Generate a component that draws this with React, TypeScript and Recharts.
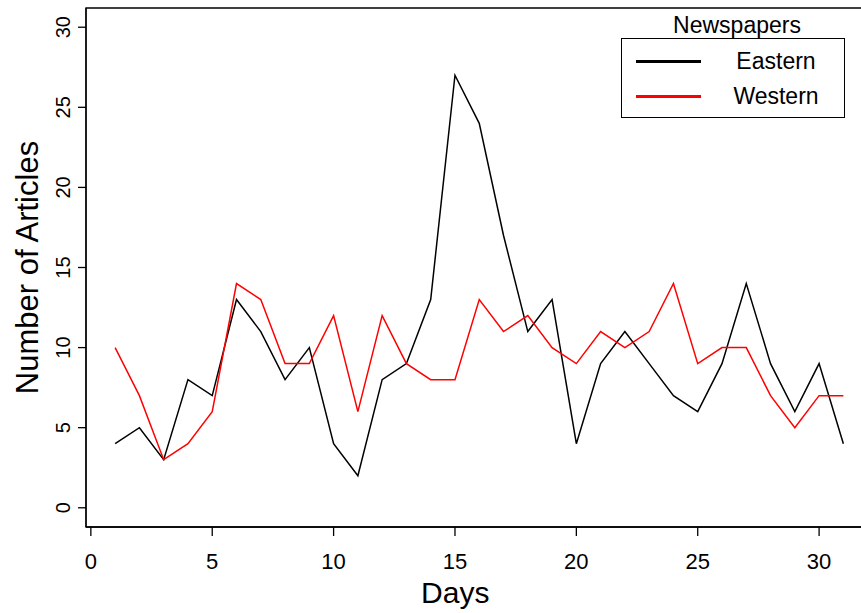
import { LineChart, Line, XAxis, YAxis, Legend, ReferenceArea } from 'recharts';

const days = [1, 2, 3, 4, 5, 6, 7, 8, 9, 10, 11, 12, 13, 14, 15, 16, 17, 18, 19, 20, 21, 22, 23, 24, 25, 26, 27, 28, 29, 30, 31];
const eastern = [4, 5, 3, 8, 7, 13, 11, 8, 10, 4, 2, 8, 9, 13, 27, 24, 17, 11, 13, 4, 9, 11, 9, 7, 6, 9, 14, 9, 6, 9, 4];
const western = [10, 7, 3, 4, 6, 14, 13, 9, 9, 12, 6, 12, 9, 8, 8, 13, 11, 12, 10, 9, 11, 10, 11, 14, 9, 10, 10, 7, 5, 7, 7];
const xTicks = [0, 5, 10, 15, 20, 25, 30];
const yTicks = [0, 5, 10, 15, 20, 25, 30];

const FONT = '"Liberation Sans", Arial, sans-serif';

const data = days.map((day, i) => ({ day, Eastern: eastern[i], Western: western[i] }));

function YTick({ x, y, payload }: any) {
  return (
    <text
      x={x}
      y={y}
      transform={`rotate(-90 ${x} ${y})`}
      textAnchor="middle"
      fontSize={20}
      fontFamily={FONT}
      fill="#000"
    >
      {payload.value}
    </text>
  );
}

function YLabel({ viewBox }: any) {
  const x = viewBox.x + 38;
  const y = viewBox.y + viewBox.height / 2;
  return (
    <text
      x={x}
      y={y}
      transform={`rotate(-90 ${x} ${y})`}
      textAnchor="middle"
      fontSize={31}
      fontFamily={FONT}
      fill="#000"
    >
      Number of Articles
    </text>
  );
}

// legend drawn as a boxed key with a title above it
function LegendBox({ payload }: any) {
  return (
    <div style={{ fontFamily: FONT, color: '#000' }}>
      <div style={{ textAlign: 'center', fontSize: 23, lineHeight: '26px', marginLeft: 8 }}>Newspapers</div>
      <div style={{ border: '1.5px solid #000', padding: '5px 0 3px 0', boxSizing: 'border-box' }}>
        {(payload || []).map((entry: any) => (
          <div key={entry.value} style={{ display: 'flex', alignItems: 'center', height: 35 }}>
            <div style={{ marginLeft: 14, width: 65, height: 3, background: entry.color }} />
            <div style={{ width: 112, marginLeft: 19, textAlign: 'center', fontSize: 23 }}>{entry.value}</div>
          </div>
        ))}
      </div>
    </div>
  );
}

export default function App() {
  return (
    <div style={{ position: 'absolute', left: 0, top: 0, width: 861, height: 613, overflow: 'hidden', background: '#fff' }}>
      <LineChart width={880} height={613} data={data} margin={{ top: 8, right: 7.5, bottom: 0, left: 0 }}>
        <ReferenceArea x1={-0.2} x2={32.2} y1={-1.2} y2={31.2} fill="none" stroke="#000" strokeWidth={1.3} ifOverflow="visible" />
        <XAxis
          type="number"
          dataKey="day"
          domain={[-0.2, 32.2]}
          ticks={xTicks}
          height={86}
          tickSize={9}
          tickMargin={17}
          axisLine={{ stroke: '#000', strokeWidth: 1.3 }}
          tickLine={{ stroke: '#000', strokeWidth: 1.3 }}
          tick={{ fill: '#000', fontSize: 22, fontFamily: FONT }}
          label={{ value: 'Days', position: 'insideBottom', offset: 10, dx: -24, fill: '#000', fontSize: 30, fontFamily: FONT }}
        />
        <YAxis
          type="number"
          domain={[-1.2, 31.2]}
          ticks={yTicks}
          width={86}
          tickSize={8}
          tickMargin={8}
          axisLine={{ stroke: '#000', strokeWidth: 1.3 }}
          tickLine={{ stroke: '#000', strokeWidth: 1.3 }}
          tick={<YTick />}
          label={<YLabel />}
        />
        <Line type="linear" dataKey="Eastern" stroke="#000" strokeWidth={1.5} dot={false} isAnimationActive={false} />
        <Line type="linear" dataKey="Western" stroke="#ff0000" strokeWidth={1.5} dot={false} isAnimationActive={false} />
        <Legend
          layout="horizontal"
          align="center"
          verticalAlign="middle"
          content={<LegendBox />}
          wrapperStyle={{ position: 'absolute', top: 12, left: 621, width: 224 }}
        />
      </LineChart>
    </div>
  );
}
